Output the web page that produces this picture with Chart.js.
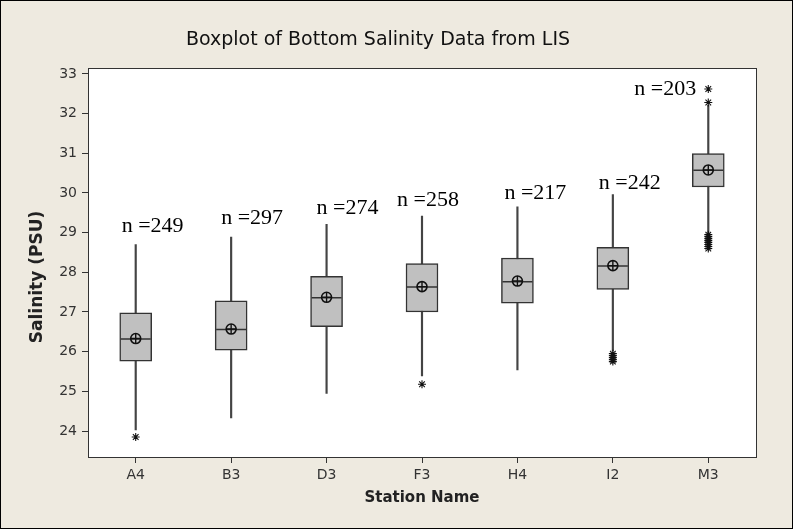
<!DOCTYPE html>
<html>
<head>
<meta charset="utf-8">
<title>Boxplot of Bottom Salinity Data from LIS</title>
<script src="https://cdn.jsdelivr.net/npm/chart.js@4.4.1/dist/chart.umd.min.js"></script>
<style>
  html, body { margin: 0; padding: 0; background: #EEEAE0; }
  canvas { display: block; }
</style>
</head>
<body>
<canvas id="boxChart" width="793" height="529"></canvas>
<script>
// --- data ---
const stations = ['A4', 'B3', 'D3', 'F3', 'H4', 'I2', 'M3'];
const whiskerLow  = [24.03, 24.33, 24.95, 25.39, 25.54, 26.02, 29.00];
const q1          = [25.76, 26.04, 26.63, 27.00, 27.22, 27.57, 30.15];
const medians     = [26.32, 26.56, 27.36, 27.63, 27.76, 28.16, 30.57];
const q3          = [26.98, 27.28, 27.90, 28.22, 28.36, 28.63, 30.99];
const whiskerHigh = [28.70, 28.89, 29.21, 29.42, 29.65, 29.96, 32.21];
const means       = [26.33, 26.57, 27.37, 27.64, 27.78, 28.17, 30.58];
const counts      = [249, 297, 274, 258, 217, 242, 203];
const outlierA4 = [23.85];
const outlierF3 = [25.18];
const outlierI2 = [25.95, 25.90, 25.85, 25.80, 25.75];
const outlierM3 = [32.62, 32.28, 28.95, 28.90, 28.85, 28.80, 28.75, 28.70, 28.65, 28.60];
const yTicks = [24, 25, 26, 27, 28, 29, 30, 31, 32, 33];

// where the "n =" notes sit (px shift from the box centre, height in PSU)
const noteShift = [-14, -10, -10, -25, -13, -14, -74];
const noteLevel = [29.15, 29.37, 29.62, 29.82, 30.0, 30.25, 32.61];

const outlierPoints = []
    .concat(outlierA4.map(v => ({ x: 'A4', y: v })))
    .concat(outlierF3.map(v => ({ x: 'F3', y: v })))
    .concat(outlierI2.map(v => ({ x: 'I2', y: v })))
    .concat(outlierM3.map(v => ({ x: 'M3', y: v })));

const INK = '#333';

// background, white plot area and frames
const framePlugin = {
    id: 'frame',
    beforeDraw(chart) {
        const { ctx, chartArea: a, width, height } = chart;
        ctx.save();
        ctx.fillStyle = '#EEEAE0';
        ctx.fillRect(0, 0, width, height);
        ctx.fillStyle = '#fff';
        ctx.fillRect(a.left, a.top, a.right - a.left, a.bottom - a.top);
        ctx.restore();
    },
    afterDraw(chart) {
        const { ctx, chartArea: a, width, height } = chart;
        ctx.save();
        ctx.strokeStyle = INK;
        ctx.lineWidth = 1;
        ctx.strokeRect(Math.round(a.left) + 0.5, Math.round(a.top) + 0.5,
            Math.round(a.right - a.left), Math.round(a.bottom - a.top));
        ctx.strokeStyle = '#000';
        ctx.strokeRect(0.5, 0.5, width - 1, height - 1);

        // y axis title
        ctx.translate(38, 277);
        ctx.rotate(-Math.PI / 2);
        ctx.fillStyle = '#222';
        ctx.font = 'bold 17px "DejaVu Sans"';
        ctx.textAlign = 'center';
        ctx.textBaseline = 'middle';
        ctx.fillText('Salinity (PSU)', 0, 0);
        ctx.restore();
    }
};

// "n =..." notes above each box
const notePlugin = {
    id: 'notes',
    afterDatasetsDraw(chart) {
        const { ctx, scales: { x, y } } = chart;
        ctx.save();
        ctx.font = '22px "Liberation Serif"';
        ctx.fillStyle = '#000';
        ctx.textAlign = 'left';
        ctx.textBaseline = 'middle';
        counts.forEach((n, i) => {
            ctx.fillText('n =' + n, x.getPixelForValue(i) + noteShift[i], y.getPixelForValue(noteLevel[i]));
        });
        ctx.restore();
    }
};

const ctx = document.getElementById('boxChart').getContext('2d');
new Chart(ctx, {
    type: 'bar',
    data: {
        labels: stations,
        datasets: [
            {
                label: 'whiskers',
                data: stations.map((s, i) => [whiskerLow[i], whiskerHigh[i]]),
                backgroundColor: '#444',
                barThickness: 1.5,
                grouped: false,
                order: 6
            },
            {
                label: 'IQR box',
                data: stations.map((s, i) => [q1[i], q3[i]]),
                backgroundColor: '#C0C0C0',
                borderColor: INK,
                borderWidth: 1.5,
                borderSkipped: false,
                barThickness: 32,
                grouped: false,
                order: 5
            },
            {
                type: 'line',
                label: 'median',
                data: medians,
                showLine: false,
                pointStyle: 'line',
                pointRadius: 15,
                pointBorderWidth: 1.5,
                borderColor: INK,
                order: 4
            },
            {
                type: 'line',
                label: 'mean',
                data: means,
                showLine: false,
                pointStyle: 'circle',
                pointRadius: 5,
                pointBorderWidth: 1.6,
                borderColor: '#111',
                backgroundColor: 'rgba(0,0,0,0)',
                order: 3
            },
            {
                type: 'line',
                label: 'mean cross',
                data: means,
                showLine: false,
                pointStyle: 'cross',
                pointRadius: 5,
                pointBorderWidth: 1.4,
                borderColor: '#111',
                order: 2
            },
            {
                type: 'line',
                label: 'outliers',
                data: outlierPoints,
                showLine: false,
                pointStyle: 'star',
                pointRadius: 4,
                pointBorderWidth: 1.1,
                borderColor: '#111',
                order: 1
            }
        ]
    },
    options: {
        responsive: false,
        animation: false,
        layout: { padding: { left: 0, right: 37, top: 0, bottom: 0 } },
        plugins: {
            legend: { display: false },
            tooltip: { enabled: false },
            title: {
                display: true,
                text: 'Boxplot of Bottom Salinity Data from LIS',
                color: '#111',
                font: { family: '"DejaVu Sans"', size: 19, weight: 'normal' },
                padding: { top: 28.6, bottom: 16.8 }
            }
        },
        scales: {
            x: {
                offset: true,
                afterFit(scale) { scale.height = 72; },
                grid: { offset: false, drawOnChartArea: false, drawTicks: true, tickLength: 6, color: INK },
                border: { display: false },
                ticks: { color: INK, padding: 4, font: { family: '"DejaVu Sans"', size: 14 } },
                title: {
                    display: true,
                    text: 'Station Name',
                    color: '#222',
                    font: { family: '"DejaVu Sans"', size: 15, weight: 'bold' },
                    padding: { top: 0, bottom: 22 }
                }
            },
            y: {
                min: 23.345,
                max: 33.145,
                afterFit(scale) { scale.width = 88; },
                afterBuildTicks(scale) { scale.ticks = yTicks.map(v => ({ value: v })); },
                grid: { drawOnChartArea: false, drawTicks: true, tickLength: 6, color: INK },
                border: { display: false },
                ticks: { color: INK, padding: 5, font: { family: '"DejaVu Sans"', size: 14 } }
            }
        }
    },
    plugins: [framePlugin, notePlugin]
});
</script>
</body>
</html>
